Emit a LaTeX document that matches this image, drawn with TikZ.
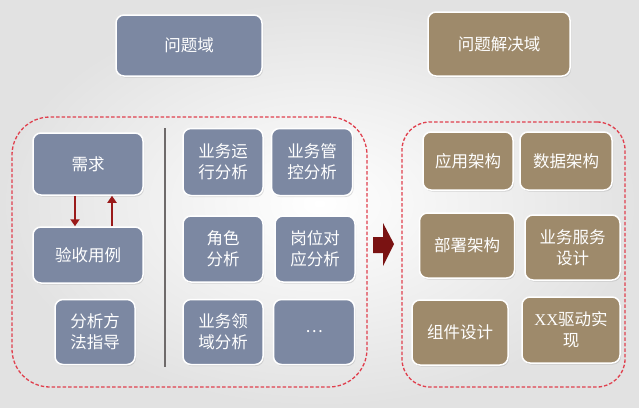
\documentclass[tikz,border=0pt]{standalone}
\usepackage{fontspec}
\setmainfont{Noto Sans CJK SC}
\newfontfamily\xxfont{Liberation Serif}
\usetikzlibrary{shadows,arrows.meta}
\definecolor{bluebox}{HTML}{7C88A2}
\definecolor{tanbox}{HTML}{9E8A6B}
\definecolor{dashred}{HTML}{E0404E}
\definecolor{arrowred}{HTML}{9A1A1A}
\definecolor{bigarrow}{HTML}{7A1212}
\definecolor{bgedge}{HTML}{E2E2E2}
\definecolor{sepgray}{HTML}{6E6A6A}
\begin{document}
\begin{tikzpicture}[x=1pt,y=-1pt,
  box/.style={draw=white, line width=1.5pt, rounded corners=8pt, text=white,
    font=\fontsize{16.5}{21}\selectfont, align=center, inner sep=0pt,
    drop shadow={shadow xshift=1pt,shadow yshift=-1.5pt,opacity=0.25}},
  bbox/.style={box, fill=bluebox},
  tbox/.style={box, fill=tanbox},
  group/.style={draw=dashred, line width=1.3pt, dash pattern=on 3.5pt off 2pt, inner sep=0pt},
  redarr/.style={draw=arrowred, line width=2.2pt, -{Triangle[length=7pt,width=9pt]}}
]
% background
\shade[inner color=white, outer color=bgedge] (0,0) rectangle (639,407);
\useasboundingbox (0,0) rectangle (639,407);

% top headers
\node[bbox, minimum width=146pt, minimum height=61pt] (pd) at (189,45.5) {问题域};
\node[tbox, minimum width=142pt, minimum height=64pt] (sd) at (499,44) {问题解决域};

% dashed groups
\node[group, rounded corners=38pt, minimum width=355pt, minimum height=270pt] (lg) at (189.5,252) {};
\node[group, rounded corners=28pt, minimum width=223pt, minimum height=265pt] (rg) at (513.5,254.5) {};

% left column
\node[bbox, minimum width=110pt, minimum height=62pt] (req) at (88,164) {需求};
\node[bbox, minimum width=110pt, minimum height=56pt] (val) at (88,255) {验收用例};
\node[bbox, minimum width=80pt, minimum height=65pt] (guide) at (95,332) {分析方\\法指导};
\draw[redarr] ([xshift=-13pt]req.south) -- ([xshift=-13pt]val.north);
\draw[redarr] ([xshift=24pt]val.north) -- ([xshift=24pt]req.south);

% separator
\coordinate (s1) at (165,128);
\coordinate (s2) at (165,367);
\draw[sepgray, line width=1.6pt] (s1) -- (s2);

% middle grid
\node[bbox, minimum width=80pt, minimum height=67pt] (a1) at (223,162) {业务运\\行分析};
\node[bbox, minimum width=81pt, minimum height=67pt] (a2) at (312,162) {业务管\\控分析};
\node[bbox, minimum width=80pt, minimum height=66pt] (a3) at (223,249) {角色\\分析};
\node[bbox, minimum width=80pt, minimum height=66pt] (a4) at (315,249) {岗位对\\应分析};
\node[bbox, minimum width=80pt, minimum height=65pt] (a5) at (223,332) {业务领\\域分析};
\node[bbox, minimum width=81pt, minimum height=65pt] (a6) at (314,332) {…};

% big arrow
\fill[bigarrow] (373,237) -- (383,237) -- (383,223) -- (394,244) -- (383,266) -- (383,253) -- (373,253) -- cycle;

% right grid
\node[tbox, minimum width=90pt, minimum height=58pt] (b1) at (468,161) {应用架构};
\node[tbox, minimum width=92pt, minimum height=58pt] (b2) at (566,161) {数据架构};
\node[tbox, minimum width=95pt, minimum height=65pt] (b3) at (467,245.5) {部署架构};
\node[tbox, minimum width=95pt, minimum height=65pt] (b4) at (572.5,247.5) {业务服务\\设计};
\node[tbox, minimum width=96pt, minimum height=65pt] (b5) at (460,332.5) {组件设计};
\node[tbox, minimum width=98pt, minimum height=66pt] (b6) at (571,330) {{\xxfont XX}驱动实\\现};
\end{tikzpicture}
\end{document}
